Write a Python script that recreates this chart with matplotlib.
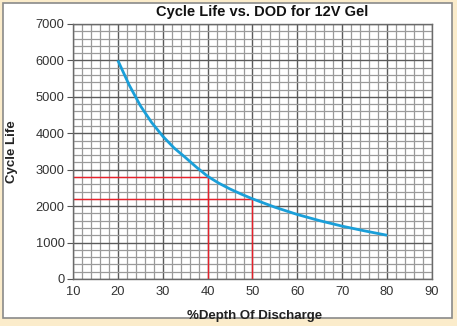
import numpy as np
import matplotlib
matplotlib.use("Agg")
import matplotlib.pyplot as plt
from matplotlib.patches import Rectangle
from matplotlib.ticker import MultipleLocator

plt.rcParams['font.family'] = ['Liberation Sans', 'DejaVu Sans']

# cycle life (depth of discharge in %)
dod = [20, 22.5, 25, 27.5, 30, 32.5, 35, 37.5, 40, 42.5, 45, 47.5, 50,
       55, 60, 65, 70, 75, 80]
cycles = [6000, 5330, 4760, 4300, 3920, 3600, 3340, 3070, 2820, 2630, 2470, 2330, 2200,
          1970, 1770, 1600, 1450, 1320, 1200]

# marked reference points
ref_dod = [40, 50]
ref_cycles = [2800, 2200]

fig = plt.figure(figsize=(4.57, 3.26), dpi=100)
fig.patch.set_facecolor('#fbeccb')
fig.patches.append(Rectangle((0.007, 0.025), 0.983, 0.965, transform=fig.transFigure,
                             facecolor='white', edgecolor='#8a8a8a', lw=1.2, zorder=-10))

ax = fig.add_axes([0.1597, 0.1442, 0.7856, 0.7822])
ax.set_xlim(10, 90)
ax.set_ylim(0, 7000)
ax.xaxis.set_major_locator(MultipleLocator(10))
ax.xaxis.set_minor_locator(MultipleLocator(2))
ax.yaxis.set_major_locator(MultipleLocator(1000))
ax.yaxis.set_minor_locator(MultipleLocator(200))
ax.grid(which='major', color='#5a5a5a', lw=1.0)
ax.grid(which='minor', color='#9a9a9a', lw=0.9)
ax.set_axisbelow(True)
for s in ax.spines.values():
    s.set_color('#6a6a6a')
    s.set_linewidth(1.0)

ax.tick_params(axis='both', which='minor', length=0)
ax.tick_params(axis='x', which='major', length=0, pad=5, labelsize=9.3, labelcolor='#333333')
ax.tick_params(axis='y', which='major', length=4, color='#555555', pad=2, labelsize=9.3,
               labelcolor='#333333')

for d, c in zip(ref_dod, ref_cycles):
    ax.plot([10, d], [c, c], color='#e8202a', lw=1.0)
    ax.plot([d, d], [0, c], color='#e8202a', lw=1.0)

ax.plot(dod, cycles, color='#1a9fd9', lw=2.0, solid_capstyle='butt', solid_joinstyle='round')

fig.text(0.573, 0.963, 'Cycle Life vs. DOD for 12V Gel', fontsize=10.5, fontweight='bold',
         ha='center', va='center', color='#111111')
ax.set_xlabel('%Depth Of Discharge', fontsize=9.5, fontweight='bold', color='#222222')
ax.xaxis.set_label_coords(0.505, -0.122)
ax.set_ylabel('Cycle Life', fontsize=9.5, fontweight='bold', color='#222222')
ax.yaxis.set_label_coords(-0.153, 0.5)

fig.savefig('out.png', dpi=100, facecolor=fig.get_facecolor())
